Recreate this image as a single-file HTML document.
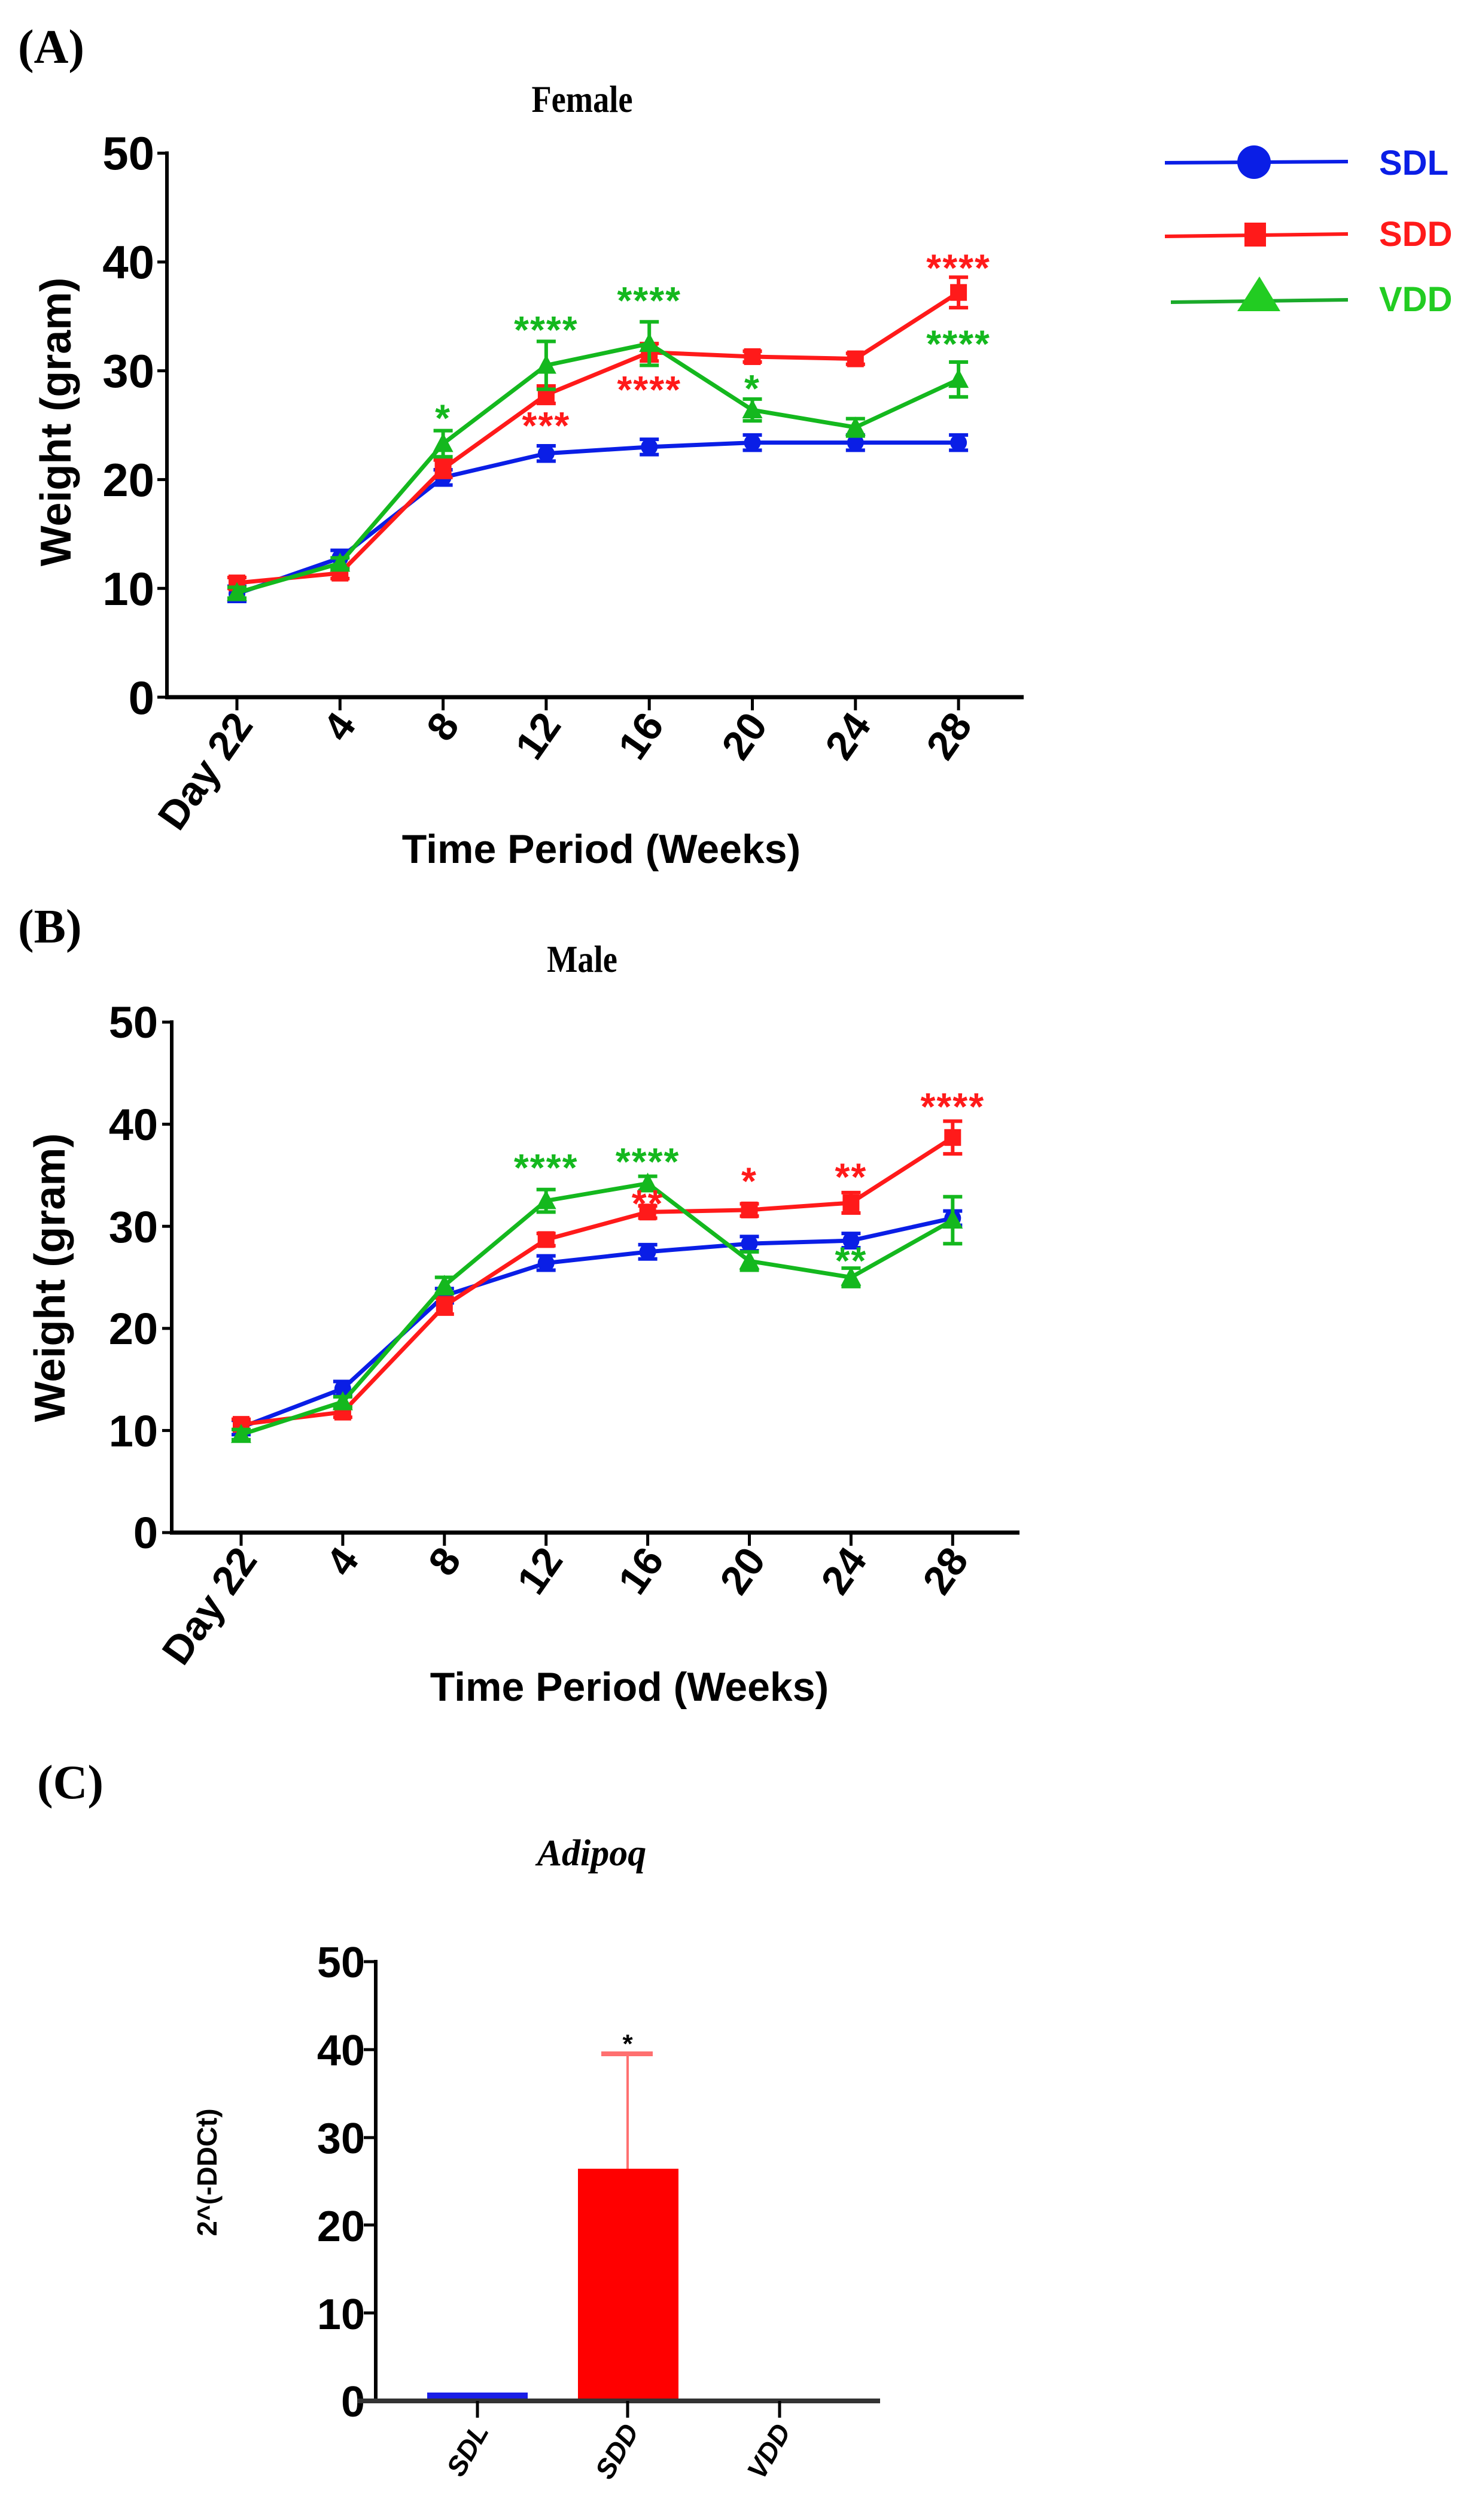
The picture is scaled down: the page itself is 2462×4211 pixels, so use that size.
<!DOCTYPE html>
<html><head><meta charset="utf-8"><style>
html,body{margin:0;padding:0;background:#fff;}
svg{display:block;}
.num{font-family:"Liberation Sans Narrow","Liberation Sans",sans-serif;font-weight:bold;}
.ttl{font-family:"Liberation Serif",serif;font-weight:bold;}
.ax{font-family:"Liberation Sans",sans-serif;font-weight:bold;}
</style></head><body>
<svg id="s" width="2462" height="4211" viewBox="0 0 2462 4211" xmlns="http://www.w3.org/2000/svg">
<rect width="2462" height="4211" fill="#fff"/>
<!-- Panel A -->
<text x="30" y="105" class="ttl" font-size="80">(A)</text>
<text x="973" y="187" class="ttl" font-size="64" text-anchor="middle" transform="translate(973 0) scale(0.85 1) translate(-973 0)">Female</text>
<g class="num" font-size="78" text-anchor="end">
<text x="258" y="283">50</text><text x="258" y="465">40</text><text x="258" y="647">30</text><text x="258" y="829">20</text><text x="258" y="1011">10</text><text x="258" y="1193">0</text>
</g>
<text class="ax" font-size="72" text-anchor="middle" transform="translate(118 705) rotate(-90)">Weight (gram)</text>
<g class="ax" font-size="68" text-anchor="end">
<text transform="translate(425 1212) rotate(-55)">Day 22</text>
<text transform="translate(597 1212) rotate(-55)">4</text>
<text transform="translate(770 1212) rotate(-55)">8</text>
<text transform="translate(940 1212) rotate(-55)">12</text>
<text transform="translate(1112 1212) rotate(-55)">16</text>
<text transform="translate(1285 1212) rotate(-55)">20</text>
<text transform="translate(1458 1212) rotate(-55)">24</text>
<text transform="translate(1627 1212) rotate(-55)">28</text>
</g>
<text x="1005" y="1442" class="ax" font-size="68" text-anchor="middle">Time Period (Weeks)</text>
<!-- Legend -->
<g stroke-width="6">
<line x1="1947" y1="272" x2="2253" y2="270" stroke="#0a1ee6"/>
<ellipse cx="2096" cy="271" rx="28" ry="28" fill="#0a1ee6"/>
<line x1="1947" y1="395" x2="2253" y2="391" stroke="#ff1a1a"/>
<rect x="2080" y="372" width="36" height="40" fill="#ff1a1a"/>
<line x1="1957" y1="505" x2="2253" y2="501" stroke="#1aaa2a"/>
<polygon points="2105,462 2140,520 2068,520" fill="#22cc22"/>
</g>
<g class="ax" font-size="58">
<text x="2305" y="292" fill="#0a1ee6">SDL</text>
<text x="2305" y="411" fill="#ff1a1a">SDD</text>
<text x="2305" y="520" fill="#22cc22">VDD</text>
</g>
<!-- Panel B -->
<text x="30" y="1575" class="ttl" font-size="80">(B)</text>
<text x="973" y="1624" class="ttl" font-size="64" text-anchor="middle" transform="translate(973 0) scale(0.85 1) translate(-973 0)">Male</text>
<g class="num" font-size="74" text-anchor="end">
<text x="264" y="1734">50</text><text x="264" y="1905">40</text><text x="264" y="2076">30</text><text x="264" y="2246">20</text><text x="264" y="2417">10</text><text x="264" y="2587">0</text>
</g>
<text class="ax" font-size="72" text-anchor="middle" transform="translate(108 2135) rotate(-90)">Weight (gram)</text>
<g class="ax" font-size="68" text-anchor="end">
<text transform="translate(432 2607) rotate(-55)">Day 22</text>
<text transform="translate(602 2607) rotate(-55)">4</text>
<text transform="translate(773 2607) rotate(-55)">8</text>
<text transform="translate(943 2607) rotate(-55)">12</text>
<text transform="translate(1112 2607) rotate(-55)">16</text>
<text transform="translate(1282 2607) rotate(-55)">20</text>
<text transform="translate(1451 2607) rotate(-55)">24</text>
<text transform="translate(1621 2607) rotate(-55)">28</text>
</g>
<text x="1052" y="2842" class="ax" font-size="68" text-anchor="middle">Time Period (Weeks)</text>
<!-- Panel C -->
<text x="62" y="3005" class="ttl" font-size="80">(C)</text>
<text x="989" y="3117" class="ttl" font-size="62" font-style="italic" text-anchor="middle">Adipoq</text>
<g class="num" font-size="72" text-anchor="end">
<text x="610" y="3304">50</text><text x="610" y="3451">40</text><text x="610" y="3598">30</text><text x="610" y="3745">20</text><text x="610" y="3892">10</text><text x="610" y="4038">0</text>
</g>
<text class="ax" font-size="46" text-anchor="middle" transform="translate(362 3630) rotate(-90)">2^(-DDCt)</text>
<g class="ax" font-size="46" font-style="italic" text-anchor="end">
<text transform="translate(818 4062) rotate(-60)">SDL</text>
<text transform="translate(1069 4062) rotate(-60)">SDD</text>
<text transform="translate(1323 4062) rotate(-60)">VDD</text>
</g>
<rect x="714" y="3998" width="168" height="14" fill="#1a1ee6"/>
<rect x="966" y="3624" width="168" height="388" fill="#ff0000"/>
<line x1="1049" y1="3624" x2="1049" y2="3432" stroke="#ff7070" stroke-width="4"/>
<line x1="1005" y1="3432" x2="1091" y2="3432" stroke="#ff7070" stroke-width="8"/>
<text x="1049" y="3430" font-family="Liberation Sans,sans-serif" font-weight="bold" font-size="44" text-anchor="middle">*</text>
<line x1="628" y1="3275" x2="628" y2="4012" stroke="#000" stroke-width="6"/>
<line x1="597" y1="4012" x2="1471" y2="4012" stroke="#333" stroke-width="8"/>
<g stroke="#000" stroke-width="5">
<line x1="608" y1="3278" x2="628" y2="3278"/><line x1="608" y1="3425" x2="628" y2="3425"/><line x1="608" y1="3572" x2="628" y2="3572"/><line x1="608" y1="3718" x2="628" y2="3718"/><line x1="608" y1="3865" x2="628" y2="3865"/>
<line x1="798" y1="4012" x2="798" y2="4040"/><line x1="1049" y1="4012" x2="1049" y2="4040"/><line x1="1303" y1="4012" x2="1303" y2="4040"/>
</g>
<g id="plots"></g>
</svg>
<script>
var NS="http://www.w3.org/2000/svg",G=document.getElementById("plots");
function el(t,a){var e=document.createElementNS(NS,t);for(var k in a)e.setAttribute(k,a[k]);G.appendChild(e);return e;}
var B="#0a1ee6",R="#ff1a1a",Gr="#14b81e";
function panel(p){
 var X=function(i){return p.x0+i*p.dx},Y=function(v){return p.y0-v*p.sy};
 el("line",{x1:p.ax,y1:Y(50)-3,x2:p.ax,y2:p.y0,stroke:"#000","stroke-width":6});
 el("line",{x1:p.ax-3,y1:p.y0,x2:p.xe,y2:p.y0,stroke:"#000","stroke-width":7});
 for(var v=0;v<=50;v+=10)el("line",{x1:p.ax-16,y1:Y(v),x2:p.ax,y2:Y(v),stroke:"#000","stroke-width":5});
 for(var i=0;i<8;i++)el("line",{x1:X(i),y1:p.y0,x2:X(i),y2:p.y0+22,stroke:"#000","stroke-width":5});
 p.series.forEach(function(s){
  var pts=s.d.map(function(v,i){return X(i)+","+Y(v)}).join(" ");
  el("polyline",{points:pts,fill:"none",stroke:s.c,"stroke-width":7,"stroke-linejoin":"round"});
  s.d.forEach(function(v,i){
   var e=(s.e&&s.e[i])||0.7,x=X(i);
   el("line",{x1:x,y1:Y(v+e),x2:x,y2:Y(v-e),stroke:s.c,"stroke-width":6});
   el("line",{x1:x-16,y1:Y(v+e),x2:x+16,y2:Y(v+e),stroke:s.c,"stroke-width":6});
   el("line",{x1:x-16,y1:Y(v-e),x2:x+16,y2:Y(v-e),stroke:s.c,"stroke-width":6});
   var y=Y(v);
   if(s.m=="c")el("circle",{cx:x,cy:y,r:14,fill:s.c});
   else if(s.m=="s")el("rect",{x:x-14,y:y-14,width:28,height:28,fill:s.c});
   else el("polygon",{points:(x)+","+(y-18)+" "+(x+17)+","+(y+14)+" "+(x-17)+","+(y+14),fill:s.c});
  });
 });
 p.stars.forEach(function(s){
  var t=el("text",{x:X(s[0]),y:Y(s[1])+28,fill:s[3],"font-family":"Liberation Sans,sans-serif","font-weight":"bold","font-size":64,"text-anchor":"middle","letter-spacing":"2"});
  t.textContent=s[2];
 });
}
panel({x0:396,dx:172.3,y0:1165,sy:18.18,ax:279,xe:1711,
 series:[
 {c:B,m:"c",d:[9.5,12.8,20.2,22.4,23,23.4,23.4,23.4]},
 {c:R,m:"s",d:[10.5,11.4,21,27.8,31.7,31.3,31.1,37.2],e:[0.5,0.5,0.8,0.8,0.8,0.5,0.5,1.4]},
 {c:Gr,m:"t",d:[9.6,12.3,23.3,30.5,32.5,26.4,24.8,29.2],e:[0.5,0.5,1.2,2.2,2.0,1.0,0.8,1.6]}],
 stars:[[2,26,"*",Gr],[3,34.1,"****",Gr],[4,36.8,"****",Gr],[4,28.6,"****",R],[3,25.3,"***",R],[5,28.7,"*",Gr],[7,39.8,"****",R],[7,32.8,"****",Gr]]});
panel({x0:403,dx:169.9,y0:2561,sy:17.06,ax:287,xe:1704,
 series:[
 {c:B,m:"c",d:[10.3,14.1,23.2,26.4,27.5,28.3,28.6,30.8]},
 {c:R,m:"s",d:[10.6,11.8,22.2,28.7,31.4,31.6,32.3,38.7],e:[0.5,0.5,0.8,0.6,0.6,0.6,1.0,1.6]},
 {c:Gr,m:"t",d:[9.6,12.8,24.2,32.5,34.2,26.6,25.0,30.6],e:[0.5,0.5,0.8,1.1,0.7,0.9,0.9,2.3]}],
 stars:[[3,36.1,"****",Gr],[4,36.7,"****",Gr],[4,32.6,"**",R],[5,34.8,"*",R],[6,35.2,"**",R],[6,27,"**",Gr],[7,42.1,"****",R]]});
</script>
</body></html>
